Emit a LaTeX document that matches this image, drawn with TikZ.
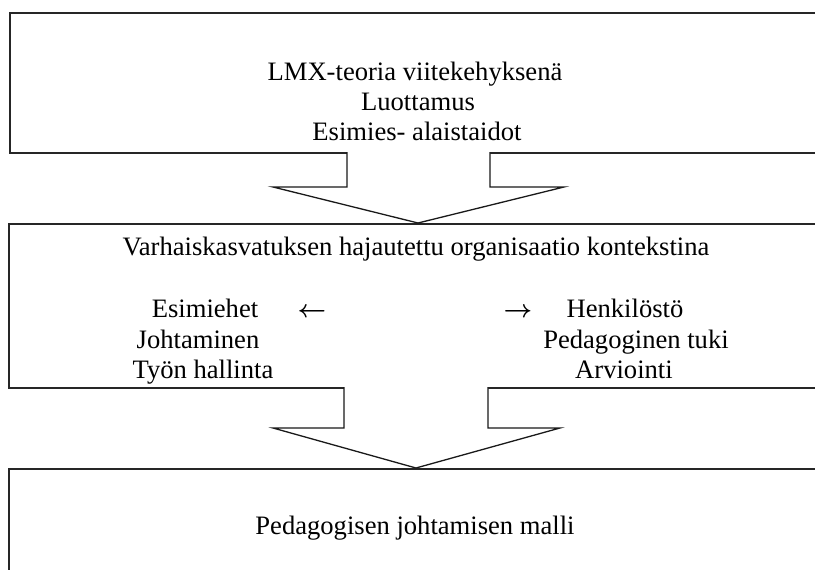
\documentclass[tikz,border=0pt]{standalone}
\usepackage{fontspec}
\setmainfont{Liberation Serif}
\begin{document}
\begin{tikzpicture}[x=1pt,y=-1pt,
  frame/.style={draw=black!85,line width=1.6pt,rectangle,inner sep=0pt,anchor=north west},
  blockarrow/.style={draw=black!90,line width=1.3pt,line join=miter},
  txt/.style={anchor=base,inner sep=0pt,font=\fontsize{26.6}{30}\selectfont},
  sym/.style={anchor=base,inner sep=0pt,font=\fontsize{28}{30}\selectfont\boldmath}]
\useasboundingbox (0,0) rectangle (815,570);
\clip (0,0) rectangle (815,570);

% three stacked frames, open to the right (and the last one to the bottom)
\node[frame,minimum width=840pt,minimum height=140pt] (top) at (9,12) {};
\node[frame,minimum width=840pt,minimum height=164pt] (mid) at (8,223) {};
\node[frame,minimum width=840pt,minimum height=160pt] (bot) at (8,468) {};

% block arrows between the frames
\coordinate (a1tip) at (mid.north -| 418,0);
\draw[blockarrow,fill=white]
  (347,152) -- (347,187) -- (273,187) -- (a1tip) -- (564,187) -- (490,187) -- (490,152);
\coordinate (a2tip) at (bot.north -| 416,0);
\draw[blockarrow,fill=white]
  (344,387) -- (344,428) -- (273,428) -- (a2tip) -- (560,428) -- (488,428) -- (488,387);

% top frame
\node[txt] (lmx) at (415,80) {LMX-teoria viitekehyksenä};
\node[txt] (luot) at (418,110) {Luottamus};
\node[txt] (taid) at (417,140) {Esimies- alaistaidot};

% middle frame
\node[txt] (ctx) at (416,255) {Varhaiskasvatuksen hajautettu organisaatio kontekstina};
\node[txt] (esim) at (205,317) {Esimiehet};
\node[sym] (larr) at (312,317) {$\leftarrow$};
\node[txt] (joht) at (198,348) {Johtaminen};
\node[txt] (tyon) at (203,378) {Työn hallinta};
\node[sym] (rarr) at (518,317) {$\rightarrow$};
\node[txt] (henk) at (625,317) {Henkilöstö};
\node[txt] (peda) at (636,348) {Pedagoginen tuki};
\begin{scope}
  \clip (440,360) rectangle (815,382);
  \node[txt] (arvi) at (624,378) {Arviointi};
\end{scope}

% bottom frame
\node[txt] (malli) at (415,534) {Pedagogisen johtamisen malli};
\end{tikzpicture}
\end{document}
